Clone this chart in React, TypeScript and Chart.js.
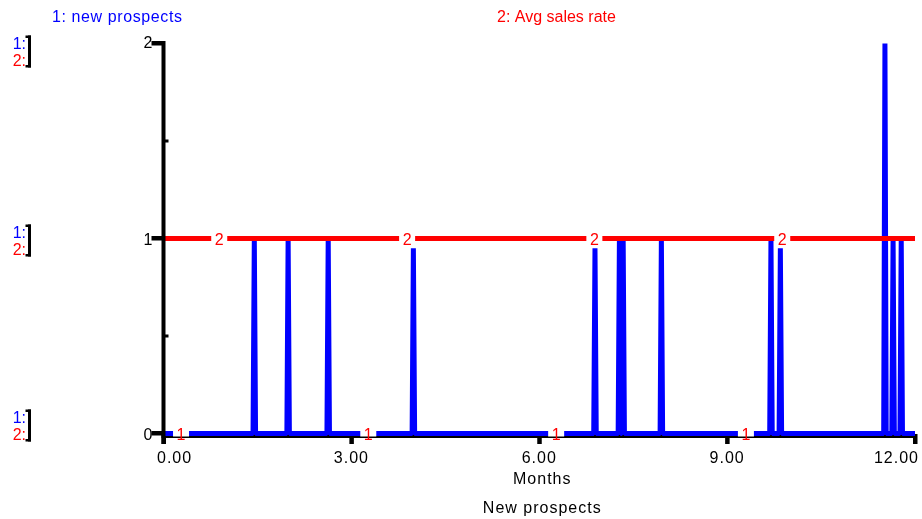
import React, { useEffect, useRef } from "react";
import { Chart, registerables } from "chart.js";

Chart.register(...registerables);

// ---- data ----
const newProspectsMonths = [
  0,
  1.43, 1.45, 1.47,
  1.97, 1.99, 2.01,
  2.61, 2.63, 2.65,
  3.97, 3.99, 4.01,
  6.87, 6.89, 6.91,
  7.26, 7.28, 7.30,
  7.32, 7.34, 7.36,
  7.93, 7.95, 7.97,
  9.68, 9.70, 9.72,
  9.83, 9.85, 9.87,
  11.50, 11.52, 11.54,
  11.63, 11.65, 11.67,
  11.76, 11.78, 11.80,
  12,
];
const newProspectsValues = [
  0,
  0, 1, 0,
  0, 1, 0,
  0, 1, 0,
  0, 0.95, 0,
  0, 0.95, 0,
  0, 1, 0,
  0, 1, 0,
  0, 1, 0,
  0, 1, 0,
  0, 0.95, 0,
  0, 2, 0,
  0, 1, 0,
  0, 1, 0,
  0,
];
const avgSalesMonths = [0, 12];
const avgSalesValues = [1, 1];

const xTicks = [0, 3, 6, 9, 12];
const xTickLabels = ["0.00", "3.00", "6.00", "9.00", "12.00"];
const yTicks = [0, 1, 2];
const yTickLabels = ["0", "1", "2"];
const yMinorTicks = [0.5, 1.5];
const series1Marker = "1";
const series2Marker = "2";
const series1MarkerMonths = [0.28, 3.27, 6.27, 9.3];
const series2MarkerMonths = [0.89, 3.89, 6.88, 9.88];
const series1Title = "1: new prospects";
const series2Title = "2: Avg sales rate";
const scaleTag1 = "1:";
const scaleTag2 = "2:";
const xAxisTitle = "Months";
const pageTitle = "New prospects";

const BLUE = "#0000ff";
const RED = "#ff0000";
const FONT = '16px "Liberation Sans", Arial, sans-serif';

const stellaPlugin = {
  id: "stellaDecor",
  beforeDatasetsDraw(chart: any) {
    const ctx = chart.ctx;
    const xs = chart.scales.x;
    const ys = chart.scales.y;
    const y0 = ys.getPixelForValue(0);
    const xl = xs.getPixelForValue(xTicks[0]);
    const xr = xs.getPixelForValue(xTicks[xTicks.length - 1]);
    ctx.save();
    ctx.fillStyle = "#000";
    ctx.fillRect(xl - 2, y0 + 0.5, xr - xl + 2, 4);
    xTicks.forEach((t) => {
      const px = xs.getPixelForValue(t);
      ctx.fillRect(px - 2, y0 + 0.5, 4.5, 10);
    });
    ctx.restore();
  },
  afterDatasetsDraw(chart: any) {
    const ctx = chart.ctx;
    const xs = chart.scales.x;
    const ys = chart.scales.y;
    const y0 = ys.getPixelForValue(0);
    const yTop = ys.getPixelForValue(yTicks[yTicks.length - 1]);
    const xl = xs.getPixelForValue(0);
    ctx.save();

    // markers on lines
    ctx.font = FONT;
    ctx.textAlign = "center";
    ctx.textBaseline = "alphabetic";
    const drawMarkers = (months: number[], val: number, text: string) => {
      const py = ys.getPixelForValue(val);
      months.forEach((m) => {
        const px = xs.getPixelForValue(m);
        ctx.fillStyle = "#fff";
        ctx.fillRect(px - 8, py - 3, 16, 6);
        ctx.fillStyle = RED;
        ctx.fillText(text, px, py + 6.5);
      });
    };
    drawMarkers(series1MarkerMonths, 0, series1Marker);
    drawMarkers(series2MarkerMonths, avgSalesValues[0], series2Marker);

    // y axis
    ctx.fillStyle = "#000";
    ctx.fillRect(xl - 2, yTop - 2.5, 4, y0 - yTop + 13);
    yTicks.forEach((t) => {
      const py = ys.getPixelForValue(t);
      ctx.fillRect(xl - 12, py - 2.5, 12, 4.5);
    });
    yMinorTicks.forEach((t) => {
      const py = ys.getPixelForValue(t);
      ctx.fillRect(xl + 1, py - 1.5, 4, 3);
    });

    // y tick labels
    ctx.textAlign = "right";
    ctx.fillStyle = "#000";
    yTicks.forEach((t, i) => {
      const py = ys.getPixelForValue(t);
      const off = i === yTicks.length - 1 ? 4.5 : 6.5;
      ctx.fillText(yTickLabels[i], xl - 11, py + off);
    });

    // x tick labels
    (ctx as any).letterSpacing = "1px";
    xTicks.forEach((t, i) => {
      const px = xs.getPixelForValue(t);
      if (i === 0) {
        ctx.textAlign = "left";
        ctx.fillText(xTickLabels[i], px - 6.5, y0 + 29.5);
      } else if (i === xTicks.length - 1) {
        ctx.textAlign = "right";
        ctx.fillText(xTickLabels[i], px + 4, y0 + 29.5);
      } else {
        ctx.textAlign = "center";
        ctx.fillText(xTickLabels[i], px, y0 + 29.5);
      }
    });
    const cx = (chart.chartArea.left + chart.chartArea.right) / 2 + 3;
    ctx.textAlign = "center";
    ctx.fillText(xAxisTitle, cx, y0 + 50.5);
    ctx.fillText(pageTitle, cx, y0 + 79.5);
    (ctx as any).letterSpacing = "0px";

    // series titles
    ctx.textAlign = "left";
    ctx.fillStyle = BLUE;
    (ctx as any).letterSpacing = "0.6px";
    ctx.fillText(series1Title, 52, 22);
    (ctx as any).letterSpacing = "0px";
    ctx.fillStyle = RED;
    ctx.fillText(series2Title, 497, 22);

    // left scale tags
    const shifts = [-10, 0, 6];
    yTicks.forEach((t, i) => {
      const py = ys.getPixelForValue(t) + shifts[i];
      ctx.textAlign = "right";
      ctx.fillStyle = BLUE;
      ctx.fillText(scaleTag1, 26, py - 1);
      ctx.fillStyle = RED;
      ctx.fillText(scaleTag2, 26, py + 16);
      ctx.fillStyle = "#000";
      ctx.fillRect(28, py - 14, 3, 32);
      ctx.fillRect(25.5, py - 14, 5.5, 2.5);
      ctx.fillRect(25.5, py + 15.5, 5.5, 2.5);
    });

    ctx.restore();
  },
};

export default function App() {
  const ref = useRef<HTMLCanvasElement | null>(null);
  useEffect(() => {
    if (!ref.current) return;
    const chart = new Chart(ref.current, {
      type: "line",
      data: {
        datasets: [
          {
            label: series2Title,
            data: avgSalesMonths.map((m, i) => ({ x: m, y: avgSalesValues[i] })),
            borderColor: RED,
            backgroundColor: RED,
            borderWidth: 5,
            pointRadius: 0,
            tension: 0,
            borderCapStyle: "butt",
            borderJoinStyle: "bevel",
            clip: false,
            order: 0,
          },
          {
            label: series1Title,
            data: newProspectsMonths.map((m, i) => ({ x: m, y: newProspectsValues[i] })),
            borderColor: BLUE,
            backgroundColor: BLUE,
            borderWidth: 5,
            pointRadius: 0,
            tension: 0,
            borderCapStyle: "butt",
            borderJoinStyle: "bevel",
            clip: false,
            order: 1,
          },
        ],
      },
      options: {
        animation: false,
        responsive: false,
        devicePixelRatio: 1,
        events: [],
        layout: { padding: { left: 163.5, right: 7, top: 43.5, bottom: 85.5 } },
        scales: {
          x: { type: "linear", min: 0, max: 12, display: false },
          y: { type: "linear", min: 0, max: 2, display: false },
        },
        plugins: { legend: { display: false }, tooltip: { enabled: false }, title: { display: false } },
      },
      plugins: [stellaPlugin],
    } as any);
    return () => chart.destroy();
  }, []);
  return (
    <div style={{ position: "absolute", left: 0, top: 0, width: 922, height: 519, background: "#fff" }}>
      <canvas ref={ref} width={922} height={519} style={{ display: "block" }} />
    </div>
  );
}
